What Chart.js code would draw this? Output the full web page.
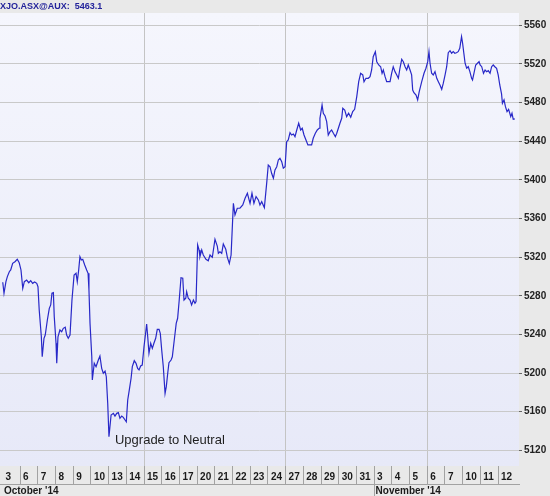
<!DOCTYPE html>
<html><head><meta charset="utf-8">
<script src="https://cdn.jsdelivr.net/npm/chart.js@4.4.1/dist/chart.umd.min.js"></script>
<style>html,body{margin:0;padding:0;background:#e9e9e9;overflow:hidden}</style>
</head><body><canvas id="c" width="550" height="496"></canvas>
<script>
const symbolLabel = 'XJO.ASX@AUX:';
const lastValue = '5463.1';
const dayLabels = ['3','6','7','8','9','10','13','14','15','16','17','20','21','22','23','24','27','28','29','30','31','3','4','5','6','7','10','11','12'];
const monthLabels = ["October '14", "November '14"];
const monthStartIdx = [0, 21];
const weekGridIdx = [8, 16, 24];
const yTicks = [5120,5160,5200,5240,5280,5320,5360,5400,5440,5480,5520,5560];
const annotationText = 'Upgrade to Neutral';
const annotationDay = 6.36;
const annotationValue = 5126.6;

// x = trading-day position (0 = 3 Oct), y = index level
const xDays = [
0.02,0.09,0.20,0.28,0.39,0.47,0.58,0.71,0.84,0.95,1.05,1.15,1.24,1.37,1.49,1.60,1.71,1.82,1.94,2.01,
2.08,2.20,2.25,2.35,2.42,2.54,2.65,2.73,2.80,2.88,2.93,3.03,3.07,3.14,3.25,3.35,3.44,3.55,3.63,3.72,
3.82,3.93,4.05,4.16,4.23,4.31,4.38,4.46,4.54,4.65,4.76,4.84,
4.89,4.95,5.05,5.08,5.19,5.29,5.42,5.51,5.61,5.70,5.80,5.87,5.95,6.02,6.14,6.27,6.36,6.46,6.55,6.64,
6.74,6.83,6.93,7.00,7.08,7.17,7.27,7.34,7.45,7.55,7.64,7.72,7.81,7.90,8.00,8.10,8.15,8.21,8.28,8.38,
8.47,8.56,8.66,8.75,8.85,8.92,9.00,9.09,9.19,9.26,9.34,9.41,9.53,9.60,9.71,9.82,9.90,
9.99,10.09,10.19,10.26,10.36,10.41,10.50,10.60,10.69,10.79,10.88,10.94,11.03,11.11,11.16,11.26,11.35,11.50,11.63,11.73,
11.86,12.01,12.14,12.20,12.29,12.39,12.48,12.62,12.71,12.82,12.92,
13.05,13.14,13.27,13.42,13.58,13.71,13.84,13.99,14.10,14.21,14.33,14.46,14.55,14.65,14.80,14.93,15.02,15.12,15.21,15.31,
15.40,15.50,15.59,15.68,15.78,15.87,15.97,16.06,16.15,16.25,16.34,16.44,16.53,16.63,16.74,16.85,16.94,17.04,17.15,17.26,
17.38,17.47,17.56,17.68,17.79,17.89,17.94,18.06,18.13,18.23,18.32,18.41,18.51,18.60,18.70,18.81,18.89,18.98,
19.07,19.17,19.23,19.34,19.45,19.56,19.68,19.79,19.90,20.02,20.13,20.24,20.36,20.43,20.54,20.67,20.77,20.86,20.95,21.07,
21.15,21.26,21.37,21.45,21.52,21.62,21.71,21.80,21.90,21.99,22.08,22.18,22.28,22.37,22.46,22.56,22.65,22.75,22.84,22.93,
23.03,23.12,23.18,23.25,23.37,23.46,23.55,23.69,23.82,23.93,24.03,24.10,24.16,24.25,24.34,24.44,24.54,24.63,24.72,24.82,
24.91,25.01,25.10,25.19,25.29,25.38,25.47,25.56,25.65,25.75,25.84,25.94,26.00,26.07,26.14,26.23,26.32,26.41,26.51,26.56,
26.64,26.74,26.84,26.93,26.99,27.08,27.18,27.27,27.36,27.45,27.55,27.64,27.73,27.82,27.92,28.01,28.10,28.20,28.25,28.34,
28.42,28.51,28.60,28.72,28.79,28.86,28.95
];
const prices = [
5294.0,5282.6,5294.6,5299.8,5304.9,5306.7,5313.6,5315.3,5317.8,5314.2,5306.7,5287.7,5294.6,5296.3,5293.5,5295.6,5292.9,5294.3,5292.9,5289.4,
5265.3,5237.6,5216.9,5236.0,5239.4,5254.9,5267.0,5270.5,5282.6,5283.2,5258.3,5230.8,5210.1,5237.6,5244.6,5242.8,5246.3,5247.4,5239.4,5236.0,
5239.4,5275.6,5301.5,5303.3,5294.6,5306.7,5320.5,5317.0,5317.8,5311.9,5306.7,5303.3,
5286.0,5251.5,5216.9,5192.8,5210.1,5206.6,5213.5,5217.7,5204.9,5199.8,5202.1,5196.2,5168.7,5134.1,5156.6,5158.3,5155.5,5158.3,5159.0,5153.2,
5155.5,5154.2,5151.4,5149.6,5172.1,5182.5,5194.6,5206.6,5212.8,5210.1,5204.9,5203.2,5207.3,5208.3,5227.3,5242.8,5250.8,5237.6,5220.5,5230.8,
5225.6,5230.8,5236.0,5245.3,5245.3,5241.2,5223.9,5206.6,5179.0,5185.9,5199.8,5210.7,5213.5,5216.9,5234.2,5251.5,5256.7,
5275.6,5298.7,5298.1,5275.6,5277.4,5284.2,5277.4,5275.6,5270.5,5275.6,5272.2,5273.9,5332.6,5327.4,5320.5,5327.4,5322.2,5317.8,5316.3,5322.2,
5319.8,5338.5,5331.5,5324.0,5325.6,5324.0,5333.6,5328.1,5319.8,5313.6,5322.2,
5375.7,5363.6,5370.6,5370.6,5374.0,5380.9,5386.1,5375.7,5386.1,5375.7,5382.6,5379.2,5374.0,5377.4,5371.2,5396.4,5415.4,5413.6,5406.8,5401.6,
5410.2,5413.6,5420.6,5422.3,5418.8,5412.0,5413.6,5439.5,5441.3,5448.8,5446.4,5447.5,5444.7,5451.6,5458.6,5451.6,5453.4,5446.4,5441.3,5436.1,
5436.1,5436.1,5443.0,5448.2,5451.6,5453.4,5463.7,5477.5,5468.9,5466.1,5460.2,5446.4,5449.9,5451.6,5448.2,5444.7,5448.2,5453.4,
5458.6,5463.7,5474.1,5472.3,5465.4,5468.9,5464.8,5470.6,5473.0,5486.1,5501.6,5510.3,5508.6,5501.6,5505.1,5505.1,5506.8,5513.7,5527.5,5532.7,
5522.3,5518.9,5517.1,5510.3,5513.7,5506.8,5501.6,5501.6,5501.6,5510.3,5517.1,5512.0,5508.6,5505.1,5515.5,5524.8,5522.3,5517.1,5513.7,5518.9,
5513.7,5508.6,5493.0,5490.2,5487.8,5482.7,5491.3,5501.6,5510.3,5515.5,5522.3,5532.7,5520.7,5510.3,5508.6,5512.0,5505.1,5501.6,5498.2,5493.7,
5500.0,5508.6,5517.1,5531.6,5533.7,5531.0,5532.7,5531.0,5531.6,5532.7,5536.2,5548.2,5541.4,5531.0,5520.7,5515.5,5517.1,5512.0,5505.1,5503.4,
5510.3,5518.9,5520.7,5522.3,5518.9,5517.1,5510.3,5513.7,5512.0,5513.0,5510.3,5517.1,5518.9,5517.1,5515.5,5508.6,5498.2,5488.9,5479.3,5482.7,
5475.7,5470.6,5473.0,5465.4,5468.9,5462.7,5463.1
];

const X_MIN = -0.1356, X_MAX = 29.186;
const Y_MIN = 5103.8, Y_MAX = 5572.7;
const FONT = "'Liberation Sans', Arial, sans-serif";

const bgPlugin = {
  id: 'bg',
  beforeDraw(chart) {
    const {ctx, chartArea: a} = chart;
    ctx.save();
    ctx.fillStyle = '#e9e9e9';
    ctx.fillRect(0, 0, chart.width, chart.height);
    const g = ctx.createLinearGradient(0, a.top, 0, a.bottom);
    g.addColorStop(0, '#f5f6fd');
    g.addColorStop(1, '#e7e9f8');
    ctx.fillStyle = g;
    ctx.fillRect(a.left, a.top, a.right - a.left, a.bottom - a.top);
    ctx.restore();
  }
};
const annoPlugin = {
  id: 'anno',
  afterDatasetsDraw(chart) {
    const {ctx, scales} = chart;
    ctx.save();
    ctx.font = '13px ' + FONT;
    ctx.fillStyle = '#1e1e1e';
    ctx.textAlign = 'left';
    ctx.textBaseline = 'alphabetic';
    ctx.fillText(annotationText, scales.x.getPixelForValue(annotationDay), scales.y.getPixelForValue(annotationValue));
    ctx.restore();
  }
};

new Chart(document.getElementById('c'), {
  type: 'line',
  data: {
    datasets: [{
      data: xDays.map((x, i) => ({x, y: prices[i]})),
      borderColor: '#2828c8',
      borderWidth: 1.2,
      pointRadius: 0,
      tension: 0,
      fill: false,
      xAxisID: 'x',
      yAxisID: 'y'
    }]
  },
  options: {
    responsive: false,
    animation: false,
    devicePixelRatio: 1,
    layout: {padding: 0},
    plugins: {
      legend: {display: false},
      tooltip: {enabled: false},
      title: {
        display: true,
        text: symbolLabel + '  ' + lastValue,
        align: 'start',
        color: '#23239b',
        font: {family: FONT, size: 9, weight: 'bold', lineHeight: 11/9},
        padding: {top: 1, bottom: 1}
      }
    },
    scales: {
      x: {
        type: 'linear', position: 'bottom', weight: 0,
        min: X_MIN, max: X_MAX,
        afterBuildTicks: s => { s.ticks = dayLabels.map((_, i) => ({value: i})); },
        afterFit: s => { s.height = 18; },
        ticks: {
          autoSkip: false, maxRotation: 0, minRotation: 0, align: 'start',
          labelOffset: 3, padding: -13, color: '#1a1a1a',
          font: {family: FONT, size: 10, weight: 'bold'},
          callback: (v, i) => dayLabels[i]
        },
        grid: {
          drawOnChartArea: true, drawTicks: true, tickLength: 18,
          color: ctx => (ctx.tick && weekGridIdx.includes(ctx.tick.value)) ? '#c4c4c4' : 'rgba(0,0,0,0)',
          tickColor: ctx => (ctx.tick && ctx.tick.value === 0) ? 'rgba(0,0,0,0)' : '#a2a2a2'
        },
        border: {display: false}
      },
      x2: {
        type: 'linear', position: 'bottom', weight: 1,
        min: X_MIN, max: X_MAX,
        afterBuildTicks: s => { s.ticks = monthStartIdx.map(v => ({value: v})); },
        afterFit: s => { s.height = 12; },
        ticks: {
          autoSkip: false, maxRotation: 0, minRotation: 0, align: 'start',
          labelOffset: 1.5, padding: -11, color: '#1a1a1a',
          font: {family: FONT, size: 10, weight: 'bold'},
          callback: (v, i) => monthLabels[i]
        },
        grid: {
          drawOnChartArea: false, drawTicks: true, tickLength: 12,
          tickColor: ctx => (ctx.tick && ctx.tick.value === monthStartIdx[1]) ? '#a2a2a2' : 'rgba(0,0,0,0)'
        },
        border: {display: true, color: '#a2a2a2', width: 1}
      },
      y: {
        type: 'linear', position: 'right',
        min: Y_MIN, max: Y_MAX,
        afterBuildTicks: s => { s.ticks = yTicks.map(v => ({value: v})); },
        afterFit: s => { s.width = 31; },
        ticks: {
          padding: 2, color: '#222',
          font: {family: FONT, size: 10, weight: 'bold'},
          callback: v => String(v)
        },
        grid: {color: '#c9c9c9', tickLength: 3, tickColor: '#666'},
        border: {display: false}
      }
    }
  },
  plugins: [bgPlugin, annoPlugin]
});
</script>
</body></html>
